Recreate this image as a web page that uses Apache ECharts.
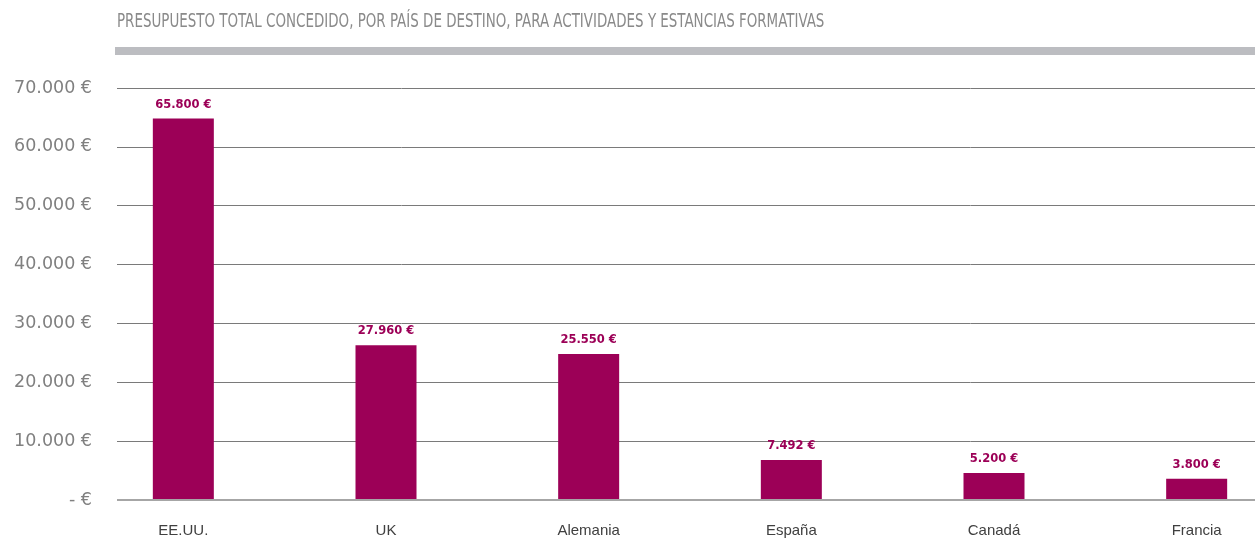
<!DOCTYPE html>
<html>
<head>
<meta charset="utf-8">
<script src="https://cdn.jsdelivr.net/npm/echarts@6/dist/echarts.min.js"></script>
<style>
  html, body { margin: 0; padding: 0; background: #fff; }
  #chart { width: 1255px; height: 539px; }
</style>
</head>
<body>
<div id="chart"></div>
<script>
// chart data
const countries = ['EE.UU.', 'UK', 'Alemania', 'España', 'Canadá', 'Francia'];
// bar heights as drawn in the picture
const amounts = [64800, 26300, 24800, 6800, 4600, 3600];
// value labels as printed above each bar
const amountLabels = ['65.800 €', '27.960 €', '25.550 €', '7.492 €', '5.200 €', '3.800 €'];
const yTicks = [0, 10000, 20000, 30000, 40000, 50000, 60000, 70000];

const titleText = 'PRESUPUESTO TOTAL CONCEDIDO, POR PAÍS DE DESTINO, PARA ACTIVIDADES Y ESTANCIAS FORMATIVAS';

// thousands with a dot, zero shown as "- €"
function euro(v) {
    if (v === 0) return '- €';
    return String(v).replace(/\B(?=(\d{3})+(?!\d))/g, '.') + ' €';
}

const chart = echarts.init(document.getElementById('chart'));
const option = {
    animation: false,
    graphic: [
        {
            // title, squeezed to look condensed
            type: 'text',
            x: 117,
            y: 22.5,
            scaleX: 0.786,
            style: {
                text: titleText,
                font: 'normal 19px "DejaVu Sans Condensed", "DejaVu Sans", sans-serif',
                fill: '#8a8a8a',
                verticalAlign: 'middle'
            }
        },
        {
            type: 'rect',
            shape: { x: 115, y: 47, width: 1140, height: 8 },
            style: { fill: '#bcbdc1' }
        }
    ],
    grid: [
        // grid for the value scale and gridlines
        { left: 117, right: 0, top: 88, bottom: 39, outerBoundsMode: 'none' },
        // grid for the bars, wider so the bands sit where the picture has them
        { left: 82, width: 1216, top: 88, bottom: 39, outerBoundsMode: 'none' }
    ],
    xAxis: [
        {
            gridIndex: 0,
            type: 'value',
            axisLine: { show: false },
            axisTick: { show: false },
            axisLabel: { show: false },
            splitLine: { show: false }
        },
        {
            gridIndex: 1,
            type: 'category',
            data: countries,
            axisLine: { show: false },
            axisTick: { show: false },
            axisLabel: {
                margin: 23,
                fontFamily: 'Liberation Sans, sans-serif',
                fontSize: 15,
                color: '#404040'
            }
        }
    ],
    yAxis: [
        {
            gridIndex: 0,
            type: 'value',
            min: yTicks[0],
            max: yTicks[yTicks.length - 1],
            interval: 10000,
            axisLine: { show: false },
            axisTick: { show: false },
            axisLabel: {
                margin: 25,
                fontFamily: 'DejaVu Sans, sans-serif',
                fontSize: 17.5,
                color: '#808080',
                formatter: euro
            },
            splitLine: { lineStyle: { color: '#7a7a7a', width: 1 } }
        },
        {
            gridIndex: 1,
            type: 'value',
            min: yTicks[0],
            max: yTicks[yTicks.length - 1],
            show: false,
            splitLine: { show: false }
        }
    ],
    series: [
        {
            // zero line drawn a bit lighter and thicker
            type: 'line',
            xAxisIndex: 0,
            yAxisIndex: 0,
            data: [],
            markLine: {
                silent: true,
                symbol: 'none',
                label: { show: false },
                lineStyle: { color: '#a6a6a6', width: 2, type: 'solid' },
                data: [{ yAxis: 0 }]
            }
        },
        {
            type: 'bar',
            xAxisIndex: 1,
            yAxisIndex: 1,
            data: amounts,
            barWidth: 61,
            itemStyle: { color: '#9c0057' },
            label: {
                show: true,
                position: 'top',
                distance: 8,
                fontFamily: 'DejaVu Sans, sans-serif',
                fontSize: 11.5,
                fontWeight: 'bold',
                color: '#9c0057',
                formatter: p => amountLabels[p.dataIndex]
            }
        }
    ]
};
chart.setOption(option);
</script>
</body>
</html>
